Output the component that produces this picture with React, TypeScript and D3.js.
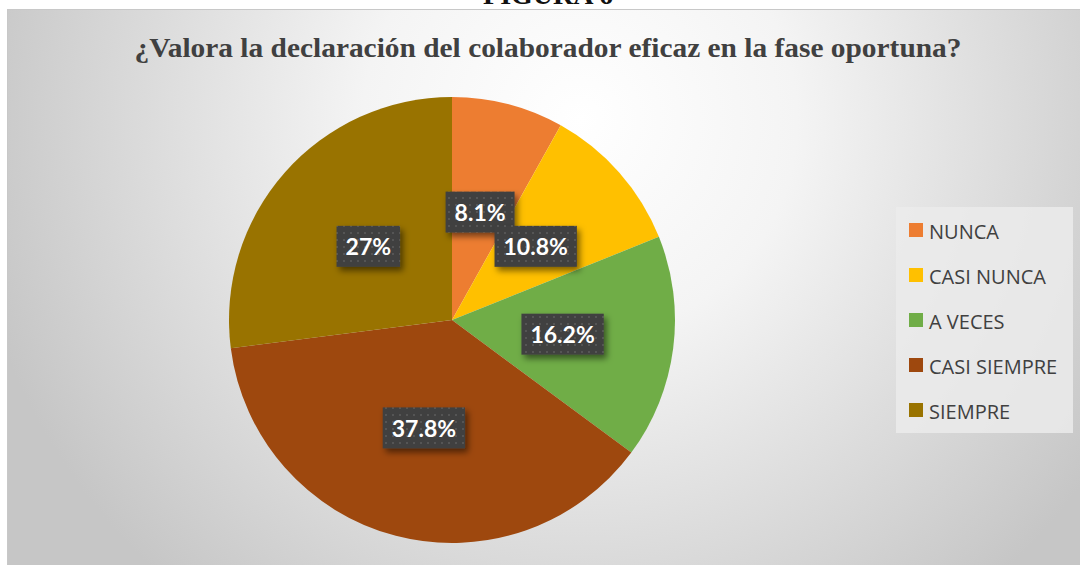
import React, { useEffect, useRef } from "react";
import * as d3 from "d3";

const categories = ["NUNCA", "CASI NUNCA", "A VECES", "CASI SIEMPRE", "SIEMPRE"];
const counts = [3, 4, 6, 14, 10];
const labels = ["8.1%", "10.8%", "16.2%", "37.8%", "27%"];
const colors = ["#ED7D31", "#FFC000", "#70AD47", "#9E480E", "#997300"];
const title = "¿Valora la declaración del colaborador eficaz en la fase oportuna?";
const figureLabel = "FIGURA 6";

const W = 1080;
const H = 565;

export default function App() {
  const ref = useRef<SVGSVGElement>(null);

  useEffect(() => {
    const svg = d3.select(ref.current);
    svg.selectAll("*").remove();

    const defs = svg.append("defs");
    const rg = defs
      .append("radialGradient")
      .attr("id", "bg")
      .attr("gradientUnits", "userSpaceOnUse")
      .attr("cx", 580)
      .attr("cy", 120)
      .attr("r", 620);
    rg.append("stop").attr("offset", "0%").attr("stop-color", "#ffffff");
    rg.append("stop").attr("offset", "35%").attr("stop-color", "#f4f4f4");
    rg.append("stop").attr("offset", "100%").attr("stop-color", "#c6c6c6");

    const pat = defs
      .append("pattern")
      .attr("id", "dots")
      .attr("width", 7)
      .attr("height", 7)
      .attr("patternUnits", "userSpaceOnUse");
    pat.append("rect").attr("width", 7).attr("height", 7).attr("fill", "#404040");
    pat.append("rect").attr("x", 3).attr("y", 3).attr("width", 2).attr("height", 2).attr("fill", "#555555");

    const f = defs.append("filter").attr("id", "sh").attr("x", "-20%").attr("y", "-30%").attr("width", "150%").attr("height", "180%");
    f.append("feDropShadow")
      .attr("dx", 3)
      .attr("dy", 4)
      .attr("stdDeviation", 3)
      .attr("flood-color", "#000")
      .attr("flood-opacity", 0.5);

    // figure label, cut off at the top as in the reference
    svg
      .append("text")
      .attr("x", 548)
      .attr("y", 4)
      .attr("text-anchor", "middle")
      .attr("font-family", "'Liberation Serif', 'Times New Roman', serif")
      .attr("font-weight", "bold")
      .attr("font-size", 28)
      .attr("fill", "#111")
      .text(figureLabel);

    // chart area
    svg
      .append("rect")
      .attr("x", 7.5)
      .attr("y", 9.5)
      .attr("width", 1075)
      .attr("height", 570)
      .attr("fill", "url(#bg)")
      .attr("stroke", "#c8c8c8")
      .attr("stroke-width", 1);

    svg
      .append("text")
      .attr("x", 548)
      .attr("y", 57)
      .attr("text-anchor", "middle")
      .attr("font-family", "'Liberation Serif', 'Times New Roman', serif")
      .attr("font-weight", "bold")
      .attr("font-size", 28)
      .attr("textLength", 827)
      .attr("lengthAdjust", "spacingAndGlyphs")
      .attr("fill", "#404040")
      .text(title);

    const cx = 452;
    const cy = 320;
    const r = 223;

    const pie = d3.pie<number>().sort(null).value((d) => d);
    const arcs = pie(counts);
    const arc = d3.arc<d3.PieArcDatum<number>>().innerRadius(0).outerRadius(r);
    const labelArc = d3.arc<d3.PieArcDatum<number>>().innerRadius(r * 0.5).outerRadius(r * 0.5);

    const g = svg.append("g").attr("transform", `translate(${cx},${cy})`);
    g.selectAll("path.slice")
      .data(arcs)
      .join("path")
      .attr("class", "slice")
      .attr("d", arc)
      .attr("fill", (_, i) => colors[i]);

    const lg = g.selectAll("g.lbl").data(arcs).join("g").attr("class", "lbl");
    lg.each(function (d, i) {
      const [x, y] = labelArc.centroid(d);
      const sel = d3.select(this);
      const t = sel
        .append("text")
        .attr("x", x)
        .attr("y", y)
        .attr("text-anchor", "middle")
        .attr("dominant-baseline", "central")
        .attr("font-family", "Lato, 'Open Sans', sans-serif")
        .attr("font-weight", "bold")
        .attr("font-size", 23)
        .attr("fill", "#ffffff")
        .text(labels[i]);
      const bb = (t.node() as SVGTextElement).getBBox();
      sel
        .insert("rect", "text")
        .attr("x", x - bb.width / 2 - 9)
        .attr("y", y - 20.5)
        .attr("width", bb.width + 18)
        .attr("height", 41)
        .attr("fill", "url(#dots)")
        .attr("filter", "url(#sh)");
    });

    // legend
    const lx = 896;
    const ly = 207;
    svg
      .append("rect")
      .attr("x", lx)
      .attr("y", ly)
      .attr("width", 177)
      .attr("height", 226)
      .attr("fill", "#ebebeb")
      .attr("opacity", 0.85);
    const items = svg
      .selectAll("g.leg")
      .data(categories)
      .join("g")
      .attr("class", "leg")
      .attr("transform", (_, i) => `translate(${lx + 13},${230 + i * 45})`);
    items
      .append("rect")
      .attr("x", 0)
      .attr("y", -7)
      .attr("width", 14)
      .attr("height", 14)
      .attr("fill", (_, i) => colors[i]);
    items
      .append("text")
      .attr("x", 20)
      .attr("y", 1)
      .attr("dominant-baseline", "central")
      .attr("font-family", "'Open Sans', Lato, sans-serif")
      .attr("font-size", 20)
      .attr("fill", "#404040")
      .text((d) => d);
  }, []);

  return (
    <div style={{ position: "fixed", left: 0, top: 0, width: W, height: H, overflow: "hidden", background: "#fff" }}>
      <svg ref={ref} width={W} height={H} style={{ display: "block" }} />
    </div>
  );
}
